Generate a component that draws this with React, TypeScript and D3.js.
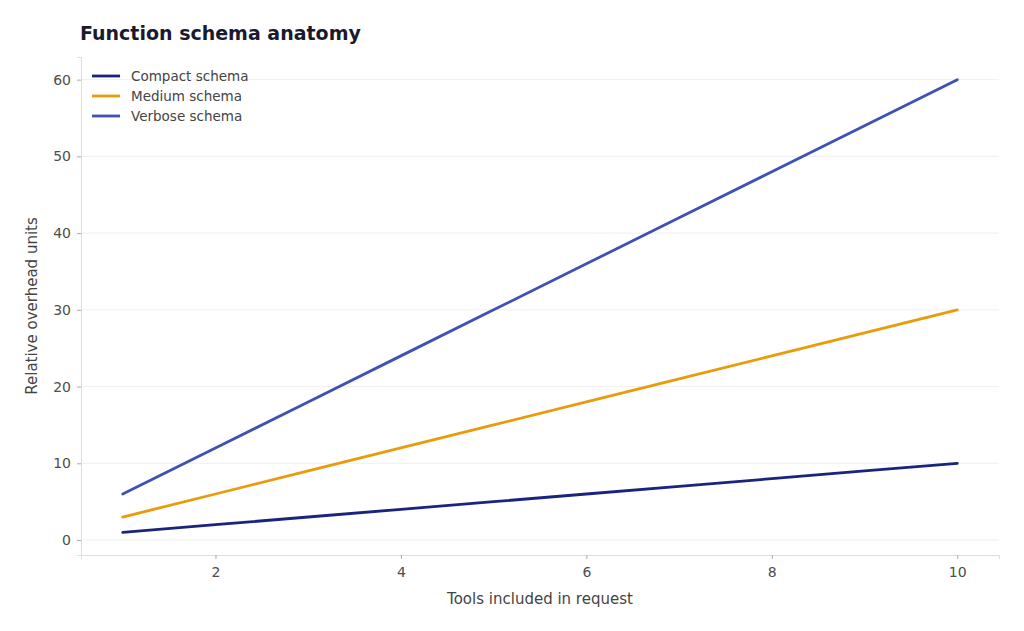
import React, { useEffect, useRef } from 'react';
import * as d3 from 'd3';

const tools = [1, 2, 3, 4, 5, 6, 7, 8, 9, 10];
const compactValues = [1, 2, 3, 4, 5, 6, 7, 8, 9, 10];
const mediumValues = [3, 6, 9, 12, 15, 18, 21, 24, 27, 30];
const verboseValues = [6, 12, 18, 24, 30, 36, 42, 48, 54, 60];
const seriesNames = ['Compact schema', 'Medium schema', 'Verbose schema'];
const seriesColors = ['#1a237e', '#e89c0c', '#3f51b5'];
const xTicks = [2, 4, 6, 8, 10];
const yTicks = [0, 10, 20, 30, 40, 50, 60];

const App: React.FC = () => {
  const svgRef = useRef<SVGSVGElement | null>(null);

  useEffect(() => {
    if (!svgRef.current) return;
    const svg = d3.select(svgRef.current);
    svg.selectAll('*').remove();

    const width = 1024;
    const height = 631;
    const margin = { top: 57, right: 25, bottom: 76, left: 81 };
    const innerWidth = width - margin.left - margin.right;
    const innerHeight = height - margin.top - margin.bottom;
    const font = 'DejaVu Sans, sans-serif';

    svg.append('rect').attr('width', width).attr('height', height).attr('fill', '#fff');

    svg.append('text')
      .attr('x', 80)
      .attr('y', 40)
      .attr('font-family', font)
      .style('font-size', '19px')
      .attr('font-weight', 'bold')
      .attr('fill', '#1a1a2e')
      .text('Function schema anatomy');

    const g = svg.append('g').attr('transform', `translate(${margin.left},${margin.top})`);

    const x = d3.scaleLinear().domain([0.55, 10.45]).range([0, innerWidth]);
    const y = d3.scaleLinear().domain([-1.95, 62.95]).range([innerHeight, 0]);

    // grid
    g.append('g')
      .selectAll('line')
      .data(yTicks)
      .enter()
      .append('line')
      .attr('x1', 0)
      .attr('x2', innerWidth)
      .attr('y1', d => y(d))
      .attr('y2', d => y(d))
      .attr('stroke', '#ebebeb')
      .attr('stroke-width', 0.8);

    // axes
    const xAxis = g.append('g')
      .attr('transform', `translate(0,${innerHeight})`)
      .call(d3.axisBottom(x).tickValues(xTicks).tickSize(4).tickPadding(6).tickFormat(d3.format('d')));
    const yAxis = g.append('g')
      .call(d3.axisLeft(y).tickValues(yTicks).tickSize(4).tickPadding(6).tickFormat(d3.format('d')));

    [xAxis, yAxis].forEach(a => {
      a.attr('font-size', 14).attr('font-family', font);
      a.select('.domain').attr('stroke', '#dddddd');
      a.selectAll('.tick line').attr('stroke', '#aaa');
      a.selectAll('.tick text').attr('fill', '#4d4d4d');
    });
    xAxis.selectAll('.tick text').attr('dy', '0.85em');

    svg.append('text')
      .attr('x', margin.left + innerWidth / 2)
      .attr('y', 604)
      .attr('text-anchor', 'middle')
      .attr('font-family', font)
      .style('font-size', '15px')
      .attr('fill', '#444')
      .text('Tools included in request');

    svg.append('text')
      .attr('transform', `translate(37,${margin.top + innerHeight / 2}) rotate(-90)`)
      .attr('text-anchor', 'middle')
      .attr('font-family', font)
      .style('font-size', '15px')
      .attr('fill', '#444')
      .text('Relative overhead units');

    const allSeries = [compactValues, mediumValues, verboseValues];
    const line = d3.line<number>()
      .x((_, i) => x(tools[i]))
      .y(d => y(d));

    allSeries.forEach((vals, i) => {
      g.append('path')
        .datum(vals)
        .attr('d', line)
        .attr('fill', 'none')
        .attr('stroke', seriesColors[i])
        .attr('stroke-width', 2.8)
        .attr('stroke-linecap', 'round');
    });

    // legend
    const legend = g.append('g').attr('transform', 'translate(11,19)');
    seriesNames.forEach((name, i) => {
      const row = legend.append('g').attr('transform', `translate(0,${i * 20})`);
      row.append('line')
        .attr('x1', 0).attr('x2', 28)
        .attr('stroke', seriesColors[i])
        .attr('stroke-width', 2.8);
      row.append('text')
        .attr('x', 39)
        .attr('dy', '0.35em')
        .attr('font-family', font)
        .style('font-size', '13.5px')
        .attr('fill', '#444')
        .text(name);
    });
  }, []);

  return (
    <svg ref={svgRef} width={1024} height={631} style={{ position: 'absolute', left: 0, top: 0 }}></svg>
  );
};

export default App;
